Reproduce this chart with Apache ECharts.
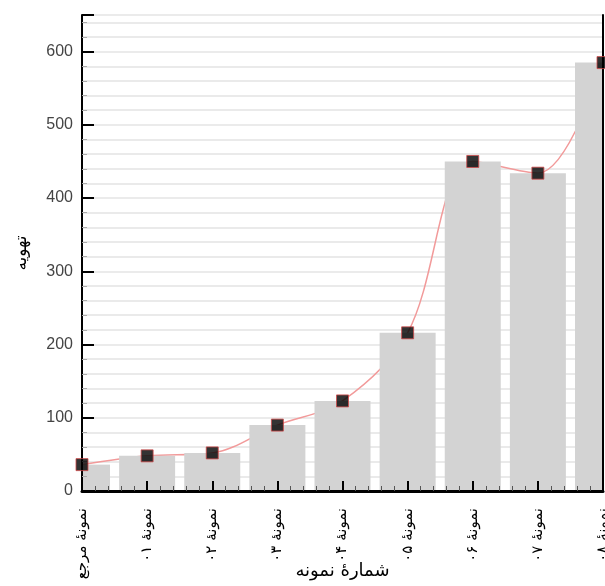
<!DOCTYPE html>
<html>
<head>
<meta charset="utf-8">
<script src="https://cdn.jsdelivr.net/npm/echarts@6/dist/echarts.min.js"></script>
<style>
  html, body { margin: 0; padding: 0; background: #fff; }
  #chart { width: 605px; height: 586px; }
</style>
</head>
<body>
<div id="chart"></div>
<script>
// Sample names along the horizontal axis
const categories = [
  'نمونهٔ مرجع', 'نمونهٔ ۰۱', 'نمونهٔ ۰۲', 'نمونهٔ ۰۳', 'نمونهٔ ۰۴',
  'نمونهٔ ۰۵', 'نمونهٔ ۰۶', 'نمونهٔ ۰۷', 'نمونهٔ ۰۸'
];
// Ventilation value per sample
const ventValues = [36, 48, 52, 90, 123, 216, 450, 434, 585];
// Vertical axis tick labels
const yTicks = [0, 100, 200, 300, 400, 500, 600];

const xAxisTitle = 'شمارهٔ نمونه';
const yAxisTitle = 'تهویه';

const points = ventValues.map((v, i) => [i, v]);
const arabicFont = '"DejaVu Sans", sans-serif';
const BAR_FRACTION = 0.86; // bar width relative to the spacing between samples

// Bars are centred on the sample positions and clipped to the plot frame,
// so the first and last bars show only their inner halves.
function renderBar(params, api) {
  const x = api.value(0);
  const v = api.value(1);
  const top = api.coord([x, v]);
  const base = api.coord([x, 0]);
  const w = api.size([1, 0])[0] * BAR_FRACTION;
  const cs = params.coordSys;
  const rect = echarts.graphic.clipRectByRect(
    { x: top[0] - w / 2, y: top[1], width: w, height: base[1] - top[1] },
    { x: cs.x, y: cs.y, width: cs.width, height: cs.height }
  );
  if (!rect) return null;
  return { type: 'rect', shape: rect, style: { fill: '#d3d3d3' } };
}

const chart = echarts.init(document.getElementById('chart'));
chart.setOption({
  animation: false,
  backgroundColor: '#fff',
  grid: { left: 82, right: 2, top: 15, bottom: 95, outerBoundsMode: 'none', containLabel: false },
  xAxis: [
    {
      type: 'value', min: 0, max: categories.length - 1, interval: 1,
      position: 'bottom', z: 5,
      axisLine: { show: true, lineStyle: { color: '#000', width: 3 } },
      axisTick: { show: true, inside: true, length: 10, lineStyle: { color: '#000', width: 2 } },
      minorTick: { show: true, splitNumber: 5, length: 5, lineStyle: { color: '#555', width: 1 } },
      splitLine: { show: false },
      axisLabel: {
        rotate: 90, margin: 17, color: '#000', fontSize: 15, fontFamily: arabicFont,
        formatter: v => categories[v] ?? ''
      },
      name: xAxisTitle, nameLocation: 'middle', nameGap: 71, nameMoveOverlap: false,
      nameTextStyle: { fontSize: 18, color: '#000', fontFamily: arabicFont }
    },
    {
      type: 'value', min: 0, max: categories.length - 1, position: 'top', z: 5,
      axisLine: { show: true, lineStyle: { color: '#000', width: 2 } },
      axisTick: { show: false }, axisLabel: { show: false }, splitLine: { show: false }
    }
  ],
  yAxis: [
    {
      type: 'value', min: 0, max: 650, interval: 100, position: 'left', z: 5,
      axisLine: { show: true, lineStyle: { color: '#000', width: 2 } },
      axisTick: { show: true, inside: true, length: 12, lineStyle: { color: '#000', width: 2 } },
      minorTick: { show: true, splitNumber: 5, length: 5, lineStyle: { color: '#aaa', width: 1 } },
      splitLine: { show: false },
      axisLabel: {
        color: '#444', fontSize: 16, fontFamily: 'Arial, "Liberation Sans", sans-serif', margin: 9,
        formatter: v => (yTicks.includes(v) ? String(v) : '')
      },
      name: yAxisTitle, nameLocation: 'middle', nameGap: 52, nameMoveOverlap: false,
      nameTextStyle: { fontSize: 17, color: '#000', fontFamily: arabicFont }
    },
    {
      // background grid lines, kept beneath the bars
      type: 'value', min: 0, max: 650, interval: 100, position: 'left', z: 0,
      axisLine: { show: false }, axisTick: { show: false }, axisLabel: { show: false },
      splitLine: { show: true, lineStyle: { color: '#e4e4e4', width: 1.5 } },
      minorSplitLine: { show: true, lineStyle: { color: '#e4e4e4', width: 1.5 } },
      minorTick: { show: false, splitNumber: 5 }
    },
    {
      type: 'value', min: 0, max: 650, position: 'right', z: 5,
      axisLine: { show: true, lineStyle: { color: '#000', width: 2 } },
      axisTick: { show: false }, axisLabel: { show: false }, splitLine: { show: false }
    }
  ],
  series: [
    {
      type: 'line', data: points, smooth: 0.35, symbol: 'none', z: 1,
      lineStyle: { color: '#f29a9a', width: 1.5 }
    },
    {
      type: 'custom', data: points, renderItem: renderBar, z: 2,
      encode: { x: 0, y: 1 }
    },
    {
      type: 'scatter', data: points, symbol: 'rect', symbolSize: 12, z: 6, clip: false,
      itemStyle: { color: '#000', borderColor: '#d04a4a', borderWidth: 1 }
    }
  ]
});
</script>
</body>
</html>
